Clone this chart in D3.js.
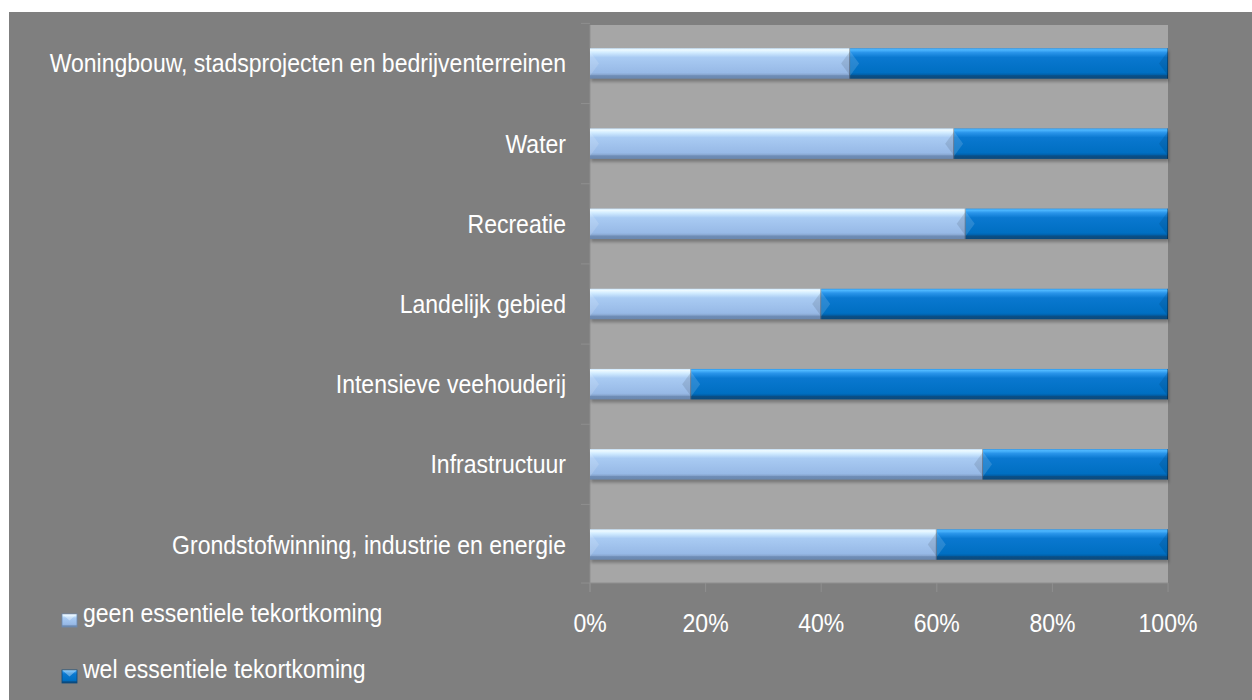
<!DOCTYPE html>
<html>
<head>
<meta charset="utf-8">
<script src="https://cdn.jsdelivr.net/npm/d3@7"></script>
<style>
  body { margin: 0; background: #ffffff; }
  text { font-family: "Liberation Sans", Arial, sans-serif; fill: #ffffff; font-size: 26px; }
</style>
</head>
<body>
<div id="chart"></div>
<script>
// categories, top to bottom as shown
var categories = [
    "Woningbouw, stadsprojecten en bedrijventerreinen",
    "Water",
    "Recreatie",
    "Landelijk gebied",
    "Intensieve veehouderij",
    "Infrastructuur",
    "Grondstofwinning, industrie en energie"
];
// share (%) per category
var geen = [45, 63, 65, 40, 17.5, 68, 60];
var wel  = [55, 37, 35, 60, 82.5, 32, 40];
var seriesNames = ["geen essentiele tekortkoming", "wel essentiele tekortkoming"];
var tickValues = [0, 20, 40, 60, 80, 100];

var width = 1252, height = 700;
var plot = {left: 590, right: 1168, top: 25, bottom: 583};
var squeeze = 0.885; // the font in the picture is a bit condensed

var svg = d3.select("#chart").append("svg")
    .attr("width", width)
    .attr("height", height);

// outer panel
svg.append("rect")
    .attr("x", 9).attr("y", 12)
    .attr("width", width - 9).attr("height", height - 12)
    .attr("fill", "#7f7f7f");

// plot area
svg.append("rect")
    .attr("x", plot.left).attr("y", plot.top)
    .attr("width", plot.right - plot.left).attr("height", plot.bottom - plot.top)
    .attr("fill", "#a6a6a6");

var x = d3.scaleLinear().domain([0, 100]).range([plot.left, plot.right]);
var y = d3.scaleBand().domain(categories).range([plot.top, plot.bottom]).paddingInner(0.62).paddingOuter(0.29);

// gradients for the bevelled look
var defs = svg.append("defs");
function grad(id, stops) {
    var g = defs.append("linearGradient").attr("id", id)
        .attr("x1", 0).attr("y1", 0).attr("x2", 0).attr("y2", 1);
    stops.forEach(function(s) {
        g.append("stop").attr("offset", s[0]).attr("stop-color", s[1]);
    });
}
grad("gLight", [[0, "#c9e6ff"], [0.05, "#eefaff"], [0.14, "#d2ecff"], [0.3, "#a9cbf3"], [0.8, "#97b9e6"], [0.86, "#8aa9d3"], [0.9, "#6f8db6"], [1, "#6a87ae"]]);
grad("gDark", [[0, "#2b95e8"], [0.05, "#4fb8ff"], [0.14, "#2a95ea"], [0.3, "#0a78d0"], [0.8, "#006fc2"], [0.86, "#0062ad"], [0.9, "#0b4f86"], [1, "#0a4a7e"]]);
var blur = defs.append("filter").attr("id", "shadow")
    .attr("x", "-5%").attr("y", "-50%").attr("width", "110%").attr("height", "200%");
blur.append("feGaussianBlur").attr("stdDeviation", 1.5);

// axis lines / ticks
var axisColor = "#8f8f8f";
svg.append("line")
    .attr("x1", plot.left).attr("x2", plot.left)
    .attr("y1", plot.top).attr("y2", plot.bottom + 9)
    .attr("stroke", axisColor);
svg.append("line")
    .attr("x1", plot.left - 9).attr("x2", plot.right)
    .attr("y1", plot.bottom).attr("y2", plot.bottom)
    .attr("stroke", axisColor);
var bounds = categories.map(function(c) { return y(c) - y.step() * y.paddingInner() / 2; });
svg.selectAll(".ytick").data(bounds).enter().append("line")
    .attr("x1", plot.left - 9).attr("x2", plot.left)
    .attr("y1", function(d) { return d; }).attr("y2", function(d) { return d; })
    .attr("stroke", axisColor);
svg.selectAll(".xtick").data(tickValues).enter().append("line")
    .attr("x1", function(d) { return x(d); }).attr("x2", function(d) { return x(d); })
    .attr("y1", plot.bottom).attr("y2", plot.bottom + 9)
    .attr("stroke", axisColor);

// stacked segments
var rows = categories.map(function(c, i) {
    return {cat: c, segs: [
        {x0: 0, x1: geen[i], fill: "url(#gLight)"},
        {x0: geen[i], x1: geen[i] + wel[i], fill: "url(#gDark)"}
    ]};
});

var bh = y.bandwidth();
var rowG = svg.selectAll(".row").data(rows).enter().append("g")
    .attr("transform", function(d) { return "translate(0," + y(d.cat) + ")"; });

// shadow under whole bar
rowG.append("rect")
    .attr("x", x(0) + 1)
    .attr("y", 3)
    .attr("width", function(d) { return x(d.segs[1].x1) - x(0); })
    .attr("height", bh)
    .attr("fill", "#000").attr("opacity", 0.28)
    .attr("filter", "url(#shadow)");

var seg = rowG.selectAll(".seg").data(function(d) { return d.segs; }).enter().append("g");
seg.append("rect")
    .attr("x", function(d) { return x(d.x0); })
    .attr("y", 0)
    .attr("width", function(d) { return x(d.x1) - x(d.x0); })
    .attr("height", bh)
    .attr("fill", function(d) { return d.fill; });
var b = 9;
// left bevel: light triangle
seg.append("path")
    .attr("d", function(d) {
        var a = x(d.x0);
        return "M" + a + ",3L" + (a + b) + "," + (bh / 2) + "L" + a + "," + (bh - 3) + "Z";
    })
    .attr("fill", "#ffffff").attr("opacity", 0.14);
// right bevel: darker triangle
seg.append("path")
    .attr("d", function(d) {
        var e = x(d.x1);
        return "M" + e + ",3L" + (e - b) + "," + (bh / 2) + "L" + e + "," + (bh - 3) + "Z";
    })
    .attr("fill", "#000000").attr("opacity", 0.1);
seg.append("rect")
    .attr("x", function(d) { return x(d.x1) - 1; })
    .attr("y", 0).attr("width", 1).attr("height", bh)
    .attr("fill", "#000").attr("opacity", 0.3);

function place(px, py) {
    return "translate(" + px + "," + py + ") scale(" + squeeze + ",1)";
}

// category labels
svg.selectAll(".cat").data(categories).enter().append("text")
    .attr("transform", function(d) { return place(566, y(d) + bh / 2 + 9); })
    .attr("text-anchor", "end")
    .text(function(d) { return d; });

// x tick labels
svg.selectAll(".xlab").data(tickValues).enter().append("text")
    .attr("transform", function(d) { return place(x(d), 632); })
    .attr("text-anchor", "middle")
    .text(function(d) { return d + "%"; });

// legend
var legend = svg.selectAll(".leg").data(seriesNames).enter().append("g")
    .attr("transform", function(d, i) { return "translate(62," + (614 + i * 56) + ")"; });
legend.append("rect")
    .attr("width", 15).attr("height", 13)
    .attr("fill", function(d, i) { return i === 0 ? "url(#gLight)" : "url(#gDark)"; })
    .attr("stroke", function(d, i) { return i === 0 ? "#6d8ab2" : "#0a4a7e"; })
    .attr("stroke-width", 0.8);
legend.append("path")
    .attr("d", "M0,0L7.5,6.5L15,0Z")
    .attr("fill", "#ffffff").attr("opacity", 0.35);
legend.append("text")
    .attr("transform", place(21, 8))
    .text(function(d) { return d; });
</script>
</body>
</html>
